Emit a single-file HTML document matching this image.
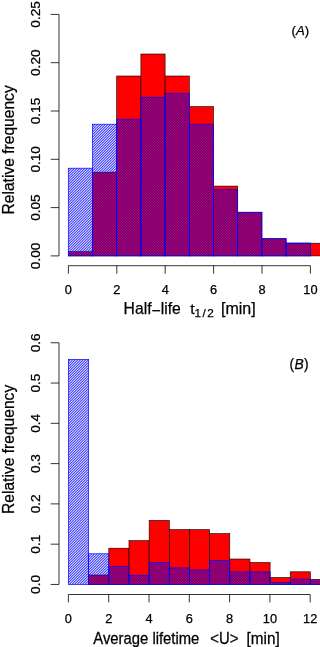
<!DOCTYPE html>
<html lang="en"><head><meta charset="utf-8"><title>Histogram</title>
<style>html,body{margin:0;padding:0;background:#fff;}body{width:320px;height:647px;overflow:hidden;}svg{display:block;}text{font-family:"Liberation Sans", sans-serif;fill:#000;stroke:#000;stroke-width:0.25px;}</style></head><body>
<svg width="320" height="647" viewBox="0 0 320 647">
<rect x="0" y="0" width="320" height="647" fill="#fff"/>
<defs><pattern id="hatch" x="0" y="0" width="13" height="13" patternUnits="userSpaceOnUse" shape-rendering="crispEdges">
<rect x="0" y="0" width="1" height="1" fill="#00f" fill-opacity="0.750"/>
<rect x="1" y="0" width="1" height="1" fill="#00f" fill-opacity="0.225"/>
<rect x="2" y="0" width="1" height="1" fill="#00f" fill-opacity="0.486"/>
<rect x="3" y="0" width="1" height="1" fill="#00f" fill-opacity="0.620"/>
<rect x="4" y="0" width="1" height="1" fill="#00f" fill-opacity="0.159"/>
<rect x="5" y="0" width="1" height="1" fill="#00f" fill-opacity="0.716"/>
<rect x="6" y="0" width="1" height="1" fill="#00f" fill-opacity="0.344"/>
<rect x="7" y="0" width="1" height="1" fill="#00f" fill-opacity="0.344"/>
<rect x="8" y="0" width="1" height="1" fill="#00f" fill-opacity="0.716"/>
<rect x="9" y="0" width="1" height="1" fill="#00f" fill-opacity="0.159"/>
<rect x="10" y="0" width="1" height="1" fill="#00f" fill-opacity="0.620"/>
<rect x="11" y="0" width="1" height="1" fill="#00f" fill-opacity="0.486"/>
<rect x="12" y="0" width="1" height="1" fill="#00f" fill-opacity="0.225"/>
<rect x="0" y="1" width="1" height="1" fill="#00f" fill-opacity="0.225"/>
<rect x="1" y="1" width="1" height="1" fill="#00f" fill-opacity="0.486"/>
<rect x="2" y="1" width="1" height="1" fill="#00f" fill-opacity="0.620"/>
<rect x="3" y="1" width="1" height="1" fill="#00f" fill-opacity="0.159"/>
<rect x="4" y="1" width="1" height="1" fill="#00f" fill-opacity="0.716"/>
<rect x="5" y="1" width="1" height="1" fill="#00f" fill-opacity="0.344"/>
<rect x="6" y="1" width="1" height="1" fill="#00f" fill-opacity="0.344"/>
<rect x="7" y="1" width="1" height="1" fill="#00f" fill-opacity="0.716"/>
<rect x="8" y="1" width="1" height="1" fill="#00f" fill-opacity="0.159"/>
<rect x="9" y="1" width="1" height="1" fill="#00f" fill-opacity="0.620"/>
<rect x="10" y="1" width="1" height="1" fill="#00f" fill-opacity="0.486"/>
<rect x="11" y="1" width="1" height="1" fill="#00f" fill-opacity="0.225"/>
<rect x="12" y="1" width="1" height="1" fill="#00f" fill-opacity="0.750"/>
<rect x="0" y="2" width="1" height="1" fill="#00f" fill-opacity="0.486"/>
<rect x="1" y="2" width="1" height="1" fill="#00f" fill-opacity="0.620"/>
<rect x="2" y="2" width="1" height="1" fill="#00f" fill-opacity="0.159"/>
<rect x="3" y="2" width="1" height="1" fill="#00f" fill-opacity="0.716"/>
<rect x="4" y="2" width="1" height="1" fill="#00f" fill-opacity="0.344"/>
<rect x="5" y="2" width="1" height="1" fill="#00f" fill-opacity="0.344"/>
<rect x="6" y="2" width="1" height="1" fill="#00f" fill-opacity="0.716"/>
<rect x="7" y="2" width="1" height="1" fill="#00f" fill-opacity="0.159"/>
<rect x="8" y="2" width="1" height="1" fill="#00f" fill-opacity="0.620"/>
<rect x="9" y="2" width="1" height="1" fill="#00f" fill-opacity="0.486"/>
<rect x="10" y="2" width="1" height="1" fill="#00f" fill-opacity="0.225"/>
<rect x="11" y="2" width="1" height="1" fill="#00f" fill-opacity="0.750"/>
<rect x="12" y="2" width="1" height="1" fill="#00f" fill-opacity="0.225"/>
<rect x="0" y="3" width="1" height="1" fill="#00f" fill-opacity="0.620"/>
<rect x="1" y="3" width="1" height="1" fill="#00f" fill-opacity="0.159"/>
<rect x="2" y="3" width="1" height="1" fill="#00f" fill-opacity="0.716"/>
<rect x="3" y="3" width="1" height="1" fill="#00f" fill-opacity="0.344"/>
<rect x="4" y="3" width="1" height="1" fill="#00f" fill-opacity="0.344"/>
<rect x="5" y="3" width="1" height="1" fill="#00f" fill-opacity="0.716"/>
<rect x="6" y="3" width="1" height="1" fill="#00f" fill-opacity="0.159"/>
<rect x="7" y="3" width="1" height="1" fill="#00f" fill-opacity="0.620"/>
<rect x="8" y="3" width="1" height="1" fill="#00f" fill-opacity="0.486"/>
<rect x="9" y="3" width="1" height="1" fill="#00f" fill-opacity="0.225"/>
<rect x="10" y="3" width="1" height="1" fill="#00f" fill-opacity="0.750"/>
<rect x="11" y="3" width="1" height="1" fill="#00f" fill-opacity="0.225"/>
<rect x="12" y="3" width="1" height="1" fill="#00f" fill-opacity="0.486"/>
<rect x="0" y="4" width="1" height="1" fill="#00f" fill-opacity="0.159"/>
<rect x="1" y="4" width="1" height="1" fill="#00f" fill-opacity="0.716"/>
<rect x="2" y="4" width="1" height="1" fill="#00f" fill-opacity="0.344"/>
<rect x="3" y="4" width="1" height="1" fill="#00f" fill-opacity="0.344"/>
<rect x="4" y="4" width="1" height="1" fill="#00f" fill-opacity="0.716"/>
<rect x="5" y="4" width="1" height="1" fill="#00f" fill-opacity="0.159"/>
<rect x="6" y="4" width="1" height="1" fill="#00f" fill-opacity="0.620"/>
<rect x="7" y="4" width="1" height="1" fill="#00f" fill-opacity="0.486"/>
<rect x="8" y="4" width="1" height="1" fill="#00f" fill-opacity="0.225"/>
<rect x="9" y="4" width="1" height="1" fill="#00f" fill-opacity="0.750"/>
<rect x="10" y="4" width="1" height="1" fill="#00f" fill-opacity="0.225"/>
<rect x="11" y="4" width="1" height="1" fill="#00f" fill-opacity="0.486"/>
<rect x="12" y="4" width="1" height="1" fill="#00f" fill-opacity="0.620"/>
<rect x="0" y="5" width="1" height="1" fill="#00f" fill-opacity="0.716"/>
<rect x="1" y="5" width="1" height="1" fill="#00f" fill-opacity="0.344"/>
<rect x="2" y="5" width="1" height="1" fill="#00f" fill-opacity="0.344"/>
<rect x="3" y="5" width="1" height="1" fill="#00f" fill-opacity="0.716"/>
<rect x="4" y="5" width="1" height="1" fill="#00f" fill-opacity="0.159"/>
<rect x="5" y="5" width="1" height="1" fill="#00f" fill-opacity="0.620"/>
<rect x="6" y="5" width="1" height="1" fill="#00f" fill-opacity="0.486"/>
<rect x="7" y="5" width="1" height="1" fill="#00f" fill-opacity="0.225"/>
<rect x="8" y="5" width="1" height="1" fill="#00f" fill-opacity="0.750"/>
<rect x="9" y="5" width="1" height="1" fill="#00f" fill-opacity="0.225"/>
<rect x="10" y="5" width="1" height="1" fill="#00f" fill-opacity="0.486"/>
<rect x="11" y="5" width="1" height="1" fill="#00f" fill-opacity="0.620"/>
<rect x="12" y="5" width="1" height="1" fill="#00f" fill-opacity="0.159"/>
<rect x="0" y="6" width="1" height="1" fill="#00f" fill-opacity="0.344"/>
<rect x="1" y="6" width="1" height="1" fill="#00f" fill-opacity="0.344"/>
<rect x="2" y="6" width="1" height="1" fill="#00f" fill-opacity="0.716"/>
<rect x="3" y="6" width="1" height="1" fill="#00f" fill-opacity="0.159"/>
<rect x="4" y="6" width="1" height="1" fill="#00f" fill-opacity="0.620"/>
<rect x="5" y="6" width="1" height="1" fill="#00f" fill-opacity="0.486"/>
<rect x="6" y="6" width="1" height="1" fill="#00f" fill-opacity="0.225"/>
<rect x="7" y="6" width="1" height="1" fill="#00f" fill-opacity="0.750"/>
<rect x="8" y="6" width="1" height="1" fill="#00f" fill-opacity="0.225"/>
<rect x="9" y="6" width="1" height="1" fill="#00f" fill-opacity="0.486"/>
<rect x="10" y="6" width="1" height="1" fill="#00f" fill-opacity="0.620"/>
<rect x="11" y="6" width="1" height="1" fill="#00f" fill-opacity="0.159"/>
<rect x="12" y="6" width="1" height="1" fill="#00f" fill-opacity="0.716"/>
<rect x="0" y="7" width="1" height="1" fill="#00f" fill-opacity="0.344"/>
<rect x="1" y="7" width="1" height="1" fill="#00f" fill-opacity="0.716"/>
<rect x="2" y="7" width="1" height="1" fill="#00f" fill-opacity="0.159"/>
<rect x="3" y="7" width="1" height="1" fill="#00f" fill-opacity="0.620"/>
<rect x="4" y="7" width="1" height="1" fill="#00f" fill-opacity="0.486"/>
<rect x="5" y="7" width="1" height="1" fill="#00f" fill-opacity="0.225"/>
<rect x="6" y="7" width="1" height="1" fill="#00f" fill-opacity="0.750"/>
<rect x="7" y="7" width="1" height="1" fill="#00f" fill-opacity="0.225"/>
<rect x="8" y="7" width="1" height="1" fill="#00f" fill-opacity="0.486"/>
<rect x="9" y="7" width="1" height="1" fill="#00f" fill-opacity="0.620"/>
<rect x="10" y="7" width="1" height="1" fill="#00f" fill-opacity="0.159"/>
<rect x="11" y="7" width="1" height="1" fill="#00f" fill-opacity="0.716"/>
<rect x="12" y="7" width="1" height="1" fill="#00f" fill-opacity="0.344"/>
<rect x="0" y="8" width="1" height="1" fill="#00f" fill-opacity="0.716"/>
<rect x="1" y="8" width="1" height="1" fill="#00f" fill-opacity="0.159"/>
<rect x="2" y="8" width="1" height="1" fill="#00f" fill-opacity="0.620"/>
<rect x="3" y="8" width="1" height="1" fill="#00f" fill-opacity="0.486"/>
<rect x="4" y="8" width="1" height="1" fill="#00f" fill-opacity="0.225"/>
<rect x="5" y="8" width="1" height="1" fill="#00f" fill-opacity="0.750"/>
<rect x="6" y="8" width="1" height="1" fill="#00f" fill-opacity="0.225"/>
<rect x="7" y="8" width="1" height="1" fill="#00f" fill-opacity="0.486"/>
<rect x="8" y="8" width="1" height="1" fill="#00f" fill-opacity="0.620"/>
<rect x="9" y="8" width="1" height="1" fill="#00f" fill-opacity="0.159"/>
<rect x="10" y="8" width="1" height="1" fill="#00f" fill-opacity="0.716"/>
<rect x="11" y="8" width="1" height="1" fill="#00f" fill-opacity="0.344"/>
<rect x="12" y="8" width="1" height="1" fill="#00f" fill-opacity="0.344"/>
<rect x="0" y="9" width="1" height="1" fill="#00f" fill-opacity="0.159"/>
<rect x="1" y="9" width="1" height="1" fill="#00f" fill-opacity="0.620"/>
<rect x="2" y="9" width="1" height="1" fill="#00f" fill-opacity="0.486"/>
<rect x="3" y="9" width="1" height="1" fill="#00f" fill-opacity="0.225"/>
<rect x="4" y="9" width="1" height="1" fill="#00f" fill-opacity="0.750"/>
<rect x="5" y="9" width="1" height="1" fill="#00f" fill-opacity="0.225"/>
<rect x="6" y="9" width="1" height="1" fill="#00f" fill-opacity="0.486"/>
<rect x="7" y="9" width="1" height="1" fill="#00f" fill-opacity="0.620"/>
<rect x="8" y="9" width="1" height="1" fill="#00f" fill-opacity="0.159"/>
<rect x="9" y="9" width="1" height="1" fill="#00f" fill-opacity="0.716"/>
<rect x="10" y="9" width="1" height="1" fill="#00f" fill-opacity="0.344"/>
<rect x="11" y="9" width="1" height="1" fill="#00f" fill-opacity="0.344"/>
<rect x="12" y="9" width="1" height="1" fill="#00f" fill-opacity="0.716"/>
<rect x="0" y="10" width="1" height="1" fill="#00f" fill-opacity="0.620"/>
<rect x="1" y="10" width="1" height="1" fill="#00f" fill-opacity="0.486"/>
<rect x="2" y="10" width="1" height="1" fill="#00f" fill-opacity="0.225"/>
<rect x="3" y="10" width="1" height="1" fill="#00f" fill-opacity="0.750"/>
<rect x="4" y="10" width="1" height="1" fill="#00f" fill-opacity="0.225"/>
<rect x="5" y="10" width="1" height="1" fill="#00f" fill-opacity="0.486"/>
<rect x="6" y="10" width="1" height="1" fill="#00f" fill-opacity="0.620"/>
<rect x="7" y="10" width="1" height="1" fill="#00f" fill-opacity="0.159"/>
<rect x="8" y="10" width="1" height="1" fill="#00f" fill-opacity="0.716"/>
<rect x="9" y="10" width="1" height="1" fill="#00f" fill-opacity="0.344"/>
<rect x="10" y="10" width="1" height="1" fill="#00f" fill-opacity="0.344"/>
<rect x="11" y="10" width="1" height="1" fill="#00f" fill-opacity="0.716"/>
<rect x="12" y="10" width="1" height="1" fill="#00f" fill-opacity="0.159"/>
<rect x="0" y="11" width="1" height="1" fill="#00f" fill-opacity="0.486"/>
<rect x="1" y="11" width="1" height="1" fill="#00f" fill-opacity="0.225"/>
<rect x="2" y="11" width="1" height="1" fill="#00f" fill-opacity="0.750"/>
<rect x="3" y="11" width="1" height="1" fill="#00f" fill-opacity="0.225"/>
<rect x="4" y="11" width="1" height="1" fill="#00f" fill-opacity="0.486"/>
<rect x="5" y="11" width="1" height="1" fill="#00f" fill-opacity="0.620"/>
<rect x="6" y="11" width="1" height="1" fill="#00f" fill-opacity="0.159"/>
<rect x="7" y="11" width="1" height="1" fill="#00f" fill-opacity="0.716"/>
<rect x="8" y="11" width="1" height="1" fill="#00f" fill-opacity="0.344"/>
<rect x="9" y="11" width="1" height="1" fill="#00f" fill-opacity="0.344"/>
<rect x="10" y="11" width="1" height="1" fill="#00f" fill-opacity="0.716"/>
<rect x="11" y="11" width="1" height="1" fill="#00f" fill-opacity="0.159"/>
<rect x="12" y="11" width="1" height="1" fill="#00f" fill-opacity="0.620"/>
<rect x="0" y="12" width="1" height="1" fill="#00f" fill-opacity="0.225"/>
<rect x="1" y="12" width="1" height="1" fill="#00f" fill-opacity="0.750"/>
<rect x="2" y="12" width="1" height="1" fill="#00f" fill-opacity="0.225"/>
<rect x="3" y="12" width="1" height="1" fill="#00f" fill-opacity="0.486"/>
<rect x="4" y="12" width="1" height="1" fill="#00f" fill-opacity="0.620"/>
<rect x="5" y="12" width="1" height="1" fill="#00f" fill-opacity="0.159"/>
<rect x="6" y="12" width="1" height="1" fill="#00f" fill-opacity="0.716"/>
<rect x="7" y="12" width="1" height="1" fill="#00f" fill-opacity="0.344"/>
<rect x="8" y="12" width="1" height="1" fill="#00f" fill-opacity="0.344"/>
<rect x="9" y="12" width="1" height="1" fill="#00f" fill-opacity="0.716"/>
<rect x="10" y="12" width="1" height="1" fill="#00f" fill-opacity="0.159"/>
<rect x="11" y="12" width="1" height="1" fill="#00f" fill-opacity="0.620"/>
<rect x="12" y="12" width="1" height="1" fill="#00f" fill-opacity="0.486"/>
</pattern></defs>
<rect x="68.30" y="251.70" width="24.20" height="4.20" fill="#ff0000" stroke="#000" stroke-width="0.6"/>
<rect x="92.50" y="172.20" width="24.20" height="83.70" fill="#ff0000" stroke="#000" stroke-width="0.6"/>
<rect x="116.70" y="76.00" width="24.20" height="179.90" fill="#ff0000" stroke="#000" stroke-width="0.6"/>
<rect x="140.90" y="54.00" width="24.20" height="201.90" fill="#ff0000" stroke="#000" stroke-width="0.6"/>
<rect x="165.10" y="76.00" width="24.20" height="179.90" fill="#ff0000" stroke="#000" stroke-width="0.6"/>
<rect x="189.30" y="106.60" width="24.20" height="149.30" fill="#ff0000" stroke="#000" stroke-width="0.6"/>
<rect x="213.50" y="186.10" width="24.20" height="69.80" fill="#ff0000" stroke="#000" stroke-width="0.6"/>
<rect x="237.70" y="212.40" width="24.20" height="43.50" fill="#ff0000" stroke="#000" stroke-width="0.6"/>
<rect x="261.90" y="238.80" width="24.20" height="17.10" fill="#ff0000" stroke="#000" stroke-width="0.6"/>
<rect x="286.10" y="243.20" width="24.20" height="12.70" fill="#ff0000" stroke="#000" stroke-width="0.6"/>
<rect x="310.30" y="243.20" width="24.20" height="12.70" fill="#ff0000" stroke="#000" stroke-width="0.6"/>
<rect x="68.30" y="168.20" width="24.20" height="87.70" fill="url(#hatch)"/>
<rect x="92.50" y="124.20" width="24.20" height="131.70" fill="url(#hatch)"/>
<rect x="116.70" y="119.20" width="24.20" height="136.70" fill="url(#hatch)"/>
<rect x="140.90" y="97.20" width="24.20" height="158.70" fill="url(#hatch)"/>
<rect x="165.10" y="93.20" width="24.20" height="162.70" fill="url(#hatch)"/>
<rect x="189.30" y="124.20" width="24.20" height="131.70" fill="url(#hatch)"/>
<rect x="213.50" y="189.70" width="24.20" height="66.20" fill="url(#hatch)"/>
<rect x="237.70" y="212.20" width="24.20" height="43.70" fill="url(#hatch)"/>
<rect x="261.90" y="238.60" width="24.20" height="17.30" fill="url(#hatch)"/>
<rect x="286.10" y="243.00" width="24.20" height="12.90" fill="url(#hatch)"/>
<rect x="68.30" y="168.20" width="24.20" height="87.70" fill="none" stroke="#0000ff" stroke-width="0.7"/>
<rect x="92.50" y="124.20" width="24.20" height="131.70" fill="none" stroke="#0000ff" stroke-width="0.7"/>
<rect x="116.70" y="119.20" width="24.20" height="136.70" fill="none" stroke="#0000ff" stroke-width="0.7"/>
<rect x="140.90" y="97.20" width="24.20" height="158.70" fill="none" stroke="#0000ff" stroke-width="0.7"/>
<rect x="165.10" y="93.20" width="24.20" height="162.70" fill="none" stroke="#0000ff" stroke-width="0.7"/>
<rect x="189.30" y="124.20" width="24.20" height="131.70" fill="none" stroke="#0000ff" stroke-width="0.7"/>
<rect x="213.50" y="189.70" width="24.20" height="66.20" fill="none" stroke="#0000ff" stroke-width="0.7"/>
<rect x="237.70" y="212.20" width="24.20" height="43.70" fill="none" stroke="#0000ff" stroke-width="0.7"/>
<rect x="261.90" y="238.60" width="24.20" height="17.30" fill="none" stroke="#0000ff" stroke-width="0.7"/>
<rect x="286.10" y="243.00" width="24.20" height="12.90" fill="none" stroke="#0000ff" stroke-width="0.7"/>
<path d="M59 255.90V14.40M50.7 255.90H59M50.7 207.60H59M50.7 159.30H59M50.7 111.00H59M50.7 62.70H59M50.7 14.40H59" stroke="#000" stroke-width="0.8" fill="none" stroke-linecap="butt"/>
<text transform="translate(39.8 255.90) rotate(-90) scale(1.1 1)" text-anchor="middle" font-size="12.4">0.00</text>
<text transform="translate(39.8 207.60) rotate(-90) scale(1.1 1)" text-anchor="middle" font-size="12.4">0.05</text>
<text transform="translate(39.8 159.30) rotate(-90) scale(1.1 1)" text-anchor="middle" font-size="12.4">0.10</text>
<text transform="translate(39.8 111.00) rotate(-90) scale(1.1 1)" text-anchor="middle" font-size="12.4">0.15</text>
<text transform="translate(39.8 62.70) rotate(-90) scale(1.1 1)" text-anchor="middle" font-size="12.4">0.20</text>
<text transform="translate(39.8 14.40) rotate(-90) scale(1.1 1)" text-anchor="middle" font-size="12.4">0.25</text>
<path d="M68.40 265.7H310.40M68.40 265.7V273.7M116.80 265.7V273.7M165.20 265.7V273.7M213.60 265.7V273.7M262.00 265.7V273.7M310.40 265.7V273.7" stroke="#000" stroke-width="0.8" fill="none"/>
<text x="68.40" y="294.1" text-anchor="middle" font-size="12.8">0</text>
<text x="116.80" y="294.1" text-anchor="middle" font-size="12.8">2</text>
<text x="165.20" y="294.1" text-anchor="middle" font-size="12.8">4</text>
<text x="213.60" y="294.1" text-anchor="middle" font-size="12.8">6</text>
<text x="262.00" y="294.1" text-anchor="middle" font-size="12.8">8</text>
<text x="310.40" y="294.1" text-anchor="middle" font-size="12.8">10</text>
<text transform="translate(13.5 149.9) rotate(-90)" text-anchor="middle" font-size="15.6">Relative frequency</text>
<text x="123.6" y="314.4" font-size="15.7">Half<tspan dy="1.6">−</tspan><tspan dy="-1.6">life</tspan></text>
<text x="190.3" y="314.3" font-size="15.5">t</text>
<text x="194.5" y="317.2" font-size="11.7" letter-spacing="1.45">1/2</text>
<text x="221" y="314.4" font-size="16">[min]</text>
<text x="291.6" y="34.6" font-size="13.2">(<tspan font-style="italic">A</tspan>)</text>
<rect x="88.66" y="575.00" width="20.16" height="9.45" fill="#ff0000" stroke="#000" stroke-width="0.6"/>
<rect x="108.82" y="548.20" width="20.16" height="36.25" fill="#ff0000" stroke="#000" stroke-width="0.6"/>
<rect x="128.98" y="540.60" width="20.16" height="43.85" fill="#ff0000" stroke="#000" stroke-width="0.6"/>
<rect x="149.14" y="520.40" width="20.16" height="64.05" fill="#ff0000" stroke="#000" stroke-width="0.6"/>
<rect x="169.30" y="529.60" width="20.16" height="54.85" fill="#ff0000" stroke="#000" stroke-width="0.6"/>
<rect x="189.46" y="529.60" width="20.16" height="54.85" fill="#ff0000" stroke="#000" stroke-width="0.6"/>
<rect x="209.62" y="533.60" width="20.16" height="50.85" fill="#ff0000" stroke="#000" stroke-width="0.6"/>
<rect x="229.78" y="559.00" width="20.16" height="25.45" fill="#ff0000" stroke="#000" stroke-width="0.6"/>
<rect x="249.94" y="562.50" width="20.16" height="21.95" fill="#ff0000" stroke="#000" stroke-width="0.6"/>
<rect x="270.10" y="577.50" width="20.16" height="6.95" fill="#ff0000" stroke="#000" stroke-width="0.6"/>
<rect x="290.26" y="571.80" width="20.16" height="12.65" fill="#ff0000" stroke="#000" stroke-width="0.6"/>
<rect x="310.42" y="579.30" width="20.16" height="5.15" fill="#ff0000" stroke="#000" stroke-width="0.6"/>
<rect x="68.50" y="359.40" width="20.16" height="225.05" fill="url(#hatch)"/>
<rect x="88.66" y="553.80" width="20.16" height="30.65" fill="url(#hatch)"/>
<rect x="108.82" y="566.40" width="20.16" height="18.05" fill="url(#hatch)"/>
<rect x="128.98" y="575.20" width="20.16" height="9.25" fill="url(#hatch)"/>
<rect x="149.14" y="562.40" width="20.16" height="22.05" fill="url(#hatch)"/>
<rect x="169.30" y="567.90" width="20.16" height="16.55" fill="url(#hatch)"/>
<rect x="189.46" y="569.90" width="20.16" height="14.55" fill="url(#hatch)"/>
<rect x="209.62" y="560.40" width="20.16" height="24.05" fill="url(#hatch)"/>
<rect x="229.78" y="571.90" width="20.16" height="12.55" fill="url(#hatch)"/>
<rect x="249.94" y="571.90" width="20.16" height="12.55" fill="url(#hatch)"/>
<rect x="270.10" y="582.40" width="20.16" height="2.05" fill="url(#hatch)"/>
<rect x="290.26" y="579.10" width="20.16" height="5.35" fill="url(#hatch)"/>
<rect x="310.42" y="581.00" width="20.16" height="3.45" fill="url(#hatch)"/>
<rect x="68.50" y="359.40" width="20.16" height="225.05" fill="none" stroke="#0000ff" stroke-width="0.7"/>
<rect x="88.66" y="553.80" width="20.16" height="30.65" fill="none" stroke="#0000ff" stroke-width="0.7"/>
<rect x="108.82" y="566.40" width="20.16" height="18.05" fill="none" stroke="#0000ff" stroke-width="0.7"/>
<rect x="128.98" y="575.20" width="20.16" height="9.25" fill="none" stroke="#0000ff" stroke-width="0.7"/>
<rect x="149.14" y="562.40" width="20.16" height="22.05" fill="none" stroke="#0000ff" stroke-width="0.7"/>
<rect x="169.30" y="567.90" width="20.16" height="16.55" fill="none" stroke="#0000ff" stroke-width="0.7"/>
<rect x="189.46" y="569.90" width="20.16" height="14.55" fill="none" stroke="#0000ff" stroke-width="0.7"/>
<rect x="209.62" y="560.40" width="20.16" height="24.05" fill="none" stroke="#0000ff" stroke-width="0.7"/>
<rect x="229.78" y="571.90" width="20.16" height="12.55" fill="none" stroke="#0000ff" stroke-width="0.7"/>
<rect x="249.94" y="571.90" width="20.16" height="12.55" fill="none" stroke="#0000ff" stroke-width="0.7"/>
<rect x="270.10" y="582.40" width="20.16" height="2.05" fill="none" stroke="#0000ff" stroke-width="0.7"/>
<rect x="290.26" y="579.10" width="20.16" height="5.35" fill="none" stroke="#0000ff" stroke-width="0.7"/>
<rect x="310.42" y="581.00" width="20.16" height="3.45" fill="none" stroke="#0000ff" stroke-width="0.7"/>
<path d="M59 584.45V342.77M50.7 584.45H59M50.7 544.17H59M50.7 503.89H59M50.7 463.61H59M50.7 423.33H59M50.7 383.05H59M50.7 342.77H59" stroke="#000" stroke-width="0.8" fill="none"/>
<text transform="translate(39.8 584.45) rotate(-90) scale(1.1 1)" text-anchor="middle" font-size="12.4">0.0</text>
<text transform="translate(39.8 544.17) rotate(-90) scale(1.1 1)" text-anchor="middle" font-size="12.4">0.1</text>
<text transform="translate(39.8 503.89) rotate(-90) scale(1.1 1)" text-anchor="middle" font-size="12.4">0.2</text>
<text transform="translate(39.8 463.61) rotate(-90) scale(1.1 1)" text-anchor="middle" font-size="12.4">0.3</text>
<text transform="translate(39.8 423.33) rotate(-90) scale(1.1 1)" text-anchor="middle" font-size="12.4">0.4</text>
<text transform="translate(39.8 383.05) rotate(-90) scale(1.1 1)" text-anchor="middle" font-size="12.4">0.5</text>
<text transform="translate(39.8 342.77) rotate(-90) scale(1.1 1)" text-anchor="middle" font-size="12.4">0.6</text>
<path d="M68.40 594.5H310.20M68.40 594.5V602.4M108.70 594.5V602.4M149.00 594.5V602.4M189.30 594.5V602.4M229.60 594.5V602.4M269.90 594.5V602.4M310.20 594.5V602.4" stroke="#000" stroke-width="0.8" fill="none"/>
<text x="68.40" y="622.6" text-anchor="middle" font-size="12.8">0</text>
<text x="108.70" y="622.6" text-anchor="middle" font-size="12.8">2</text>
<text x="149.00" y="622.6" text-anchor="middle" font-size="12.8">4</text>
<text x="189.30" y="622.6" text-anchor="middle" font-size="12.8">6</text>
<text x="229.60" y="622.6" text-anchor="middle" font-size="12.8">8</text>
<text x="269.90" y="622.6" text-anchor="middle" font-size="12.8">10</text>
<text x="310.20" y="622.6" text-anchor="middle" font-size="12.8">12</text>
<text transform="translate(13.5 449.4) rotate(-90)" text-anchor="middle" font-size="15.6">Relative frequency</text>
<text transform="translate(93.3 643.5) scale(1 1.07)" font-size="14.85">Average lifetime</text>
<text transform="translate(210.3 643.5) scale(1 1.07)" font-size="14.85">&lt;U&gt;</text>
<text transform="translate(246.6 643.6) scale(1 1.05)" font-size="15.3">[min]</text>
<text x="289.4" y="369.2" font-size="13.8" letter-spacing="0.4">(<tspan font-style="italic">B</tspan>)</text>
</svg></body></html>
